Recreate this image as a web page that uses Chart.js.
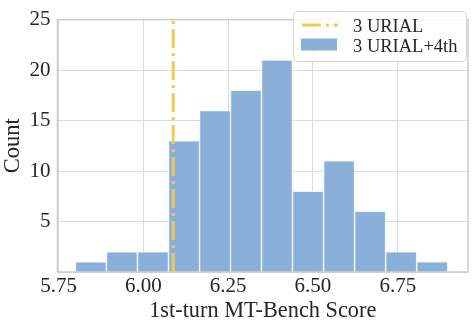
<!DOCTYPE html>
<html><head><meta charset="utf-8">
<script src="https://cdn.jsdelivr.net/npm/chart.js@4"></script>
<style>html,body{margin:0;padding:0;background:#fff}</style>
</head><body>
<canvas id="c" width="472" height="327"></canvas>
<script>
// ---- data ----
const binEdges = [5.800, 5.891, 5.983, 6.074, 6.166, 6.257, 6.348, 6.440, 6.531, 6.623, 6.714, 6.806, 6.897];
const counts   = [1, 2, 2, 13, 16, 18, 21, 8, 11, 6, 2, 1];
const urialScore = 6.088;
const xTickValues = [5.75, 6.00, 6.25, 6.50, 6.75];
const yTickValues = [0, 5, 10, 15, 20, 25];
const seriesNames = ['3 URIAL', '3 URIAL+4th'];

const FONT = "'Liberation Serif', 'Times New Roman', serif";
const TXT = '#262626';
const BAR = 'rgba(138,176,218,1)';
const GOLD = '#F3C955';

const histData = counts.map((c, i) => ({ x: (binEdges[i] + binEdges[i + 1]) / 2, y: c }));

const framePlugin = {
  id: 'frame',
  beforeDatasetsDraw(chart) {
    const { ctx, chartArea: a } = chart;
    ctx.save();
    ctx.strokeStyle = '#cccccc';
    ctx.lineWidth = 1.5;
    ctx.strokeRect(a.left, a.top, a.right - a.left, a.bottom - a.top);
    ctx.restore();
  }
};

const legendPlugin = {
  id: 'customLegend',
  afterDraw(chart) {
    const ctx = chart.ctx;
    ctx.save();
    const bx = 293, by = 11, bw = 173, bh = 50;
    ctx.fillStyle = 'rgba(255,255,255,0.85)';
    ctx.strokeStyle = '#d6d6d6';
    ctx.lineWidth = 1;
    ctx.beginPath();
    ctx.roundRect(bx + 0.5, by + 0.5, bw, bh, 4);
    ctx.fill();
    ctx.stroke();
    ctx.strokeStyle = GOLD;
    ctx.lineWidth = 3;
    ctx.setLineDash([19, 5, 3, 5]);
    ctx.beginPath();
    ctx.moveTo(302, 25);
    ctx.lineTo(338, 25);
    ctx.stroke();
    ctx.setLineDash([]);
    ctx.fillStyle = BAR;
    ctx.fillRect(301, 38.5, 36, 12);
    ctx.fillStyle = TXT;
    ctx.font = '18.5px ' + FONT;
    ctx.textBaseline = 'alphabetic';
    ctx.textAlign = 'left';
    ctx.fillText(chart.data.datasets[0].label, 353, 32);
    ctx.fillText(chart.data.datasets[1].label, 353, 51.5);
    ctx.restore();
  }
};

new Chart(document.getElementById('c'), {
  data: {
    datasets: [
      {
        type: 'line',
        label: seriesNames[0],
        data: [{ x: urialScore, y: 0 }, { x: urialScore, y: 25 }],
        borderColor: GOLD,
        borderWidth: 3,
        borderDash: [19, 5, 3, 5],
        pointRadius: 0,
        fill: false,
        order: 0
      },
      {
        type: 'bar',
        label: seriesNames[1],
        data: histData,
        backgroundColor: BAR,
        borderColor: 'rgba(235,242,250,0.9)',
        borderWidth: 1,
        barPercentage: 1,
        categoryPercentage: 1,
        order: 1
      }
    ]
  },
  options: {
    responsive: false,
    animation: false,
    layout: { padding: { top: 12, right: 4, left: 0, bottom: 2 } },
    plugins: { legend: { display: false }, tooltip: { enabled: false } },
    scales: {
      x: {
        type: 'linear',
        offset: false,
        min: 5.747,
        max: 6.957,
        afterBuildTicks: s => { s.ticks = xTickValues.map(v => ({ value: v })); },
        afterFit: s => { s.height = 53; },
        grid: { color: '#dcdcdc', lineWidth: 1, drawTicks: false, offset: false },
        border: { display: false },
        ticks: {
          padding: 2,
          color: TXT,
          font: { family: FONT, size: 21 },
          maxRotation: 0,
          callback: v => Number(v).toFixed(2)
        },
        title: {
          display: true,
          text: '1st-turn MT-Bench Score',
          color: TXT,
          font: { family: FONT, size: 22.3 },
          padding: { top: 0, bottom: 0 }
        }
      },
      y: {
        min: 0,
        max: 25,
        afterBuildTicks: s => { s.ticks = yTickValues.map(v => ({ value: v })); },
        afterFit: s => { s.width = 57.5; },
        grid: { color: '#dcdcdc', lineWidth: 1, drawTicks: false },
        border: { display: false },
        ticks: {
          padding: 7,
          color: TXT,
          font: { family: FONT, size: 21 },
          callback: v => (v === 0 ? '' : String(v))
        },
        title: {
          display: true,
          text: 'Count',
          color: TXT,
          font: { family: FONT, size: 22.5 },
          padding: { top: 0, bottom: 0 }
        }
      }
    }
  },
  plugins: [framePlugin, legendPlugin]
});
</script>
</body></html>
